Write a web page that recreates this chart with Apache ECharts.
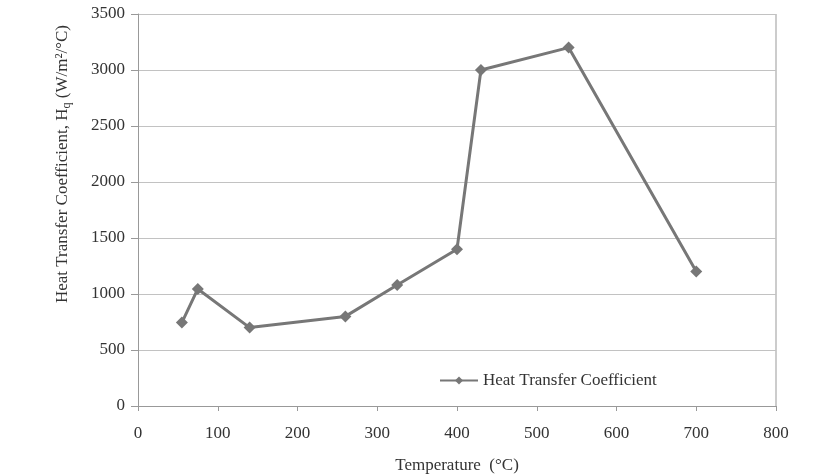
<!DOCTYPE html>
<html>
<head>
<meta charset="utf-8">
<script src="https://cdn.jsdelivr.net/npm/echarts@6/dist/echarts.min.js"></script>
<style>
  html, body { margin: 0; padding: 0; background: #fff; }
  #chart { width: 832px; height: 476px; }
</style>
</head>
<body>
<div id="chart"></div>
<script>
// temperature (°C) vs heat transfer coefficient
const temps = [55, 75, 140, 260, 325, 400, 430, 540, 700];
const coeffs = [745, 1045, 700, 800, 1080, 1400, 3000, 3200, 1200];
const seriesName = 'Heat Transfer Coefficient';

const chart = echarts.init(document.getElementById('chart'));
const font = 'Liberation Serif';
const fs = 17;

chart.setOption({
    animation: false,
    textStyle: { fontFamily: font },
    grid: { left: 138, right: 56, top: 14, bottom: 70, outerBoundsMode: 'none' },
    legend: {
        data: [seriesName],
        left: 434, top: 367,
        itemWidth: 38, itemHeight: 10,
        textStyle: { fontFamily: font, fontSize: fs, color: '#333' }
    },
    xAxis: {
        type: 'value', min: 0, max: 800, interval: 100,
        name: 'Temperature  (°C)', nameLocation: 'middle', nameGap: 51,
        nameTextStyle: { fontFamily: font, fontSize: fs, color: '#333' },
        axisLine: { show: true, lineStyle: { color: '#999' } },
        axisTick: { show: true, length: 5, lineStyle: { color: '#999' } },
        axisLabel: { fontFamily: font, fontSize: fs, color: '#333', margin: 19,
            formatter: v => String(v) },
        splitLine: { show: false }
    },
    yAxis: {
        type: 'value', min: 0, max: 3500, interval: 500,
        name: '{a|Heat Transfer Coefficient, H}{sub|q}{a| (W/m²/°C)}',
        nameLocation: 'middle', nameGap: 65,
        nameTextStyle: {
            padding: [0, 0, 0, 92],
            rich: {
                a: { fontFamily: font, fontSize: fs, color: '#333' },
                sub: { fontFamily: font, fontSize: 12, color: '#333', padding: [9, 0, 0, 0] }
            }
        },
        axisLine: { show: true, lineStyle: { color: '#999' } },
        axisTick: { show: true, length: 7, lineStyle: { color: '#999' } },
        axisLabel: { fontFamily: font, fontSize: fs, color: '#333', margin: 13,
            formatter: v => String(v) },
        splitLine: { show: true, lineStyle: { color: '#c2c2c2', width: 1 } }
    },
    graphic: [{
        // right border of the plot area
        type: 'line',
        shape: { x1: 776, y1: 14, x2: 776, y2: 406 },
        style: { stroke: '#999', lineWidth: 1 }
    }],
    series: [{
        name: seriesName,
        type: 'line',
        data: temps.map((t, i) => [t, coeffs[i]]),
        symbol: 'diamond', symbolSize: 12,
        lineStyle: { color: '#777', width: 3 },
        itemStyle: { color: '#777' }
    }]
});
</script>
</body>
</html>
